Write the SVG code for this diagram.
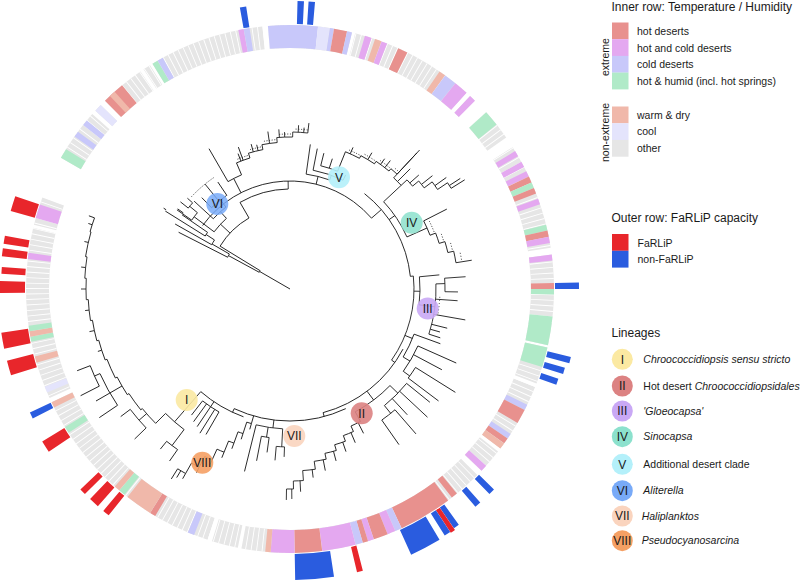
<svg xmlns="http://www.w3.org/2000/svg" width="800" height="580" viewBox="0 0 800 580">
<style>
.br line,.br circle{fill:none;stroke:#1a1a1a;stroke-width:0.85}
.br circle.tk{stroke:#1a1a1a}
.rg{fill:none;stroke-width:23}
.bar{fill:none}
.o{stroke:#e6e6e6}.hd{stroke:#e8918e}.hc{stroke:#e4a8f0}.cd{stroke:#c8c8fa}.hh{stroke:#b0eac8}.wd{stroke:#f0b8aa}.co{stroke:#e4e4fc}
.fr{stroke:#e8262b}.nf{stroke:#2a5cdf}
text{font-family:"Liberation Sans",Arial,sans-serif;fill:#1a1a1a}
.lg{font-size:10.5px}
.ttl{font-size:12px}
.it{font-style:italic}
.num{font-size:12px;text-anchor:middle}
</style>
<defs>
<marker id="ah" viewBox="0 0 6 6" refX="1" refY="3" markerWidth="5" markerHeight="5" orient="auto-start-reverse"><path d="M6,0 L0,3 L6,6" fill="none" stroke="#8c6d5e" stroke-width="1"/></marker>
</defs>
<rect width="800" height="580" fill="#fff"/>
<g id="ring" transform="translate(290 289)">
<circle class="rg o" r="252.5" pathLength="360" stroke-dasharray="11.7 360" transform="rotate(209.8)"/>
<circle class="rg o" r="252.5" pathLength="360" stroke-dasharray="1.7 360" transform="rotate(222.5)"/>
<circle class="rg o" r="252.5" pathLength="360" stroke-dasharray="10 360" transform="rotate(225.5)"/>
<circle class="rg o" r="252.5" pathLength="360" stroke-dasharray="1.7 360" transform="rotate(236.3)"/>
<circle class="rg o" r="252.5" pathLength="360" stroke-dasharray="25.4 360" transform="rotate(238.6)"/>
<circle class="rg o" r="252.5" pathLength="360" stroke-dasharray="18.4 360" transform="rotate(265.2)"/>
<circle class="rg o" r="252.5" pathLength="360" stroke-dasharray="27.7 360" transform="rotate(-75.7)"/>
<circle class="rg o" r="252.5" pathLength="360" stroke-dasharray="1.5 360" transform="rotate(-47)"/>
<circle class="rg o" r="252.5" pathLength="360" stroke-dasharray="7 360" transform="rotate(-42)"/>
<circle class="rg o" r="252.5" pathLength="360" stroke-dasharray="23.5 360" transform="rotate(-32.5)"/>
<circle class="rg o" r="252.5" pathLength="360" stroke-dasharray="19.8 360" transform="rotate(-7.5)"/>
<circle class="rg o" r="252.5" pathLength="360" stroke-dasharray="8.2 360" transform="rotate(12.8)"/>
<circle class="rg o" r="252.5" pathLength="360" stroke-dasharray="15.4 360" transform="rotate(21.8)"/>
<circle class="rg o" r="252.5" pathLength="360" stroke-dasharray="5.5 360" transform="rotate(38)"/>
<circle class="rg o" r="252.5" pathLength="360" stroke-dasharray="55.8 360" transform="rotate(44.8)"/>
<circle class="rg o" r="252.5" pathLength="360" stroke-dasharray="5.8 360" transform="rotate(101.4)"/>
<circle class="rg o" r="252.5" pathLength="360" stroke-dasharray="46.4 360" transform="rotate(108.2)"/>
<circle class="rg o" r="252.5" pathLength="360" stroke-dasharray="37.8 360" transform="rotate(155.6)"/>
<circle class="rg o" r="252.5" pathLength="360" stroke-dasharray="6.2 360" transform="rotate(194.1)"/>
<circle class="rg" stroke="#fff" r="252.5" pathLength="360" stroke-dasharray="0.2 1" stroke-width="23.6"/>
<circle class="rg hh" r="252.5" pathLength="360" stroke-dasharray="2.2 360" transform="rotate(209.8)"/>
<circle class="rg cd" r="252.5" pathLength="360" stroke-dasharray="1.3 360" transform="rotate(215.3)"/>
<circle class="rg cd" r="252.5" pathLength="360" stroke-dasharray="1.3 360" transform="rotate(218.4)"/>
<circle class="rg co" r="252.5" pathLength="360" stroke-dasharray="1.7 360" transform="rotate(222.5)"/>
<circle class="rg hd" r="252.5" pathLength="360" stroke-dasharray="5 360" transform="rotate(225.5)"/>
<circle class="rg wd" r="252.5" pathLength="360" stroke-dasharray="1.4 360" transform="rotate(227)"/>
<circle class="rg hh" r="252.5" pathLength="360" stroke-dasharray="1.3 360" transform="rotate(238.6)"/>
<circle class="rg cd" r="252.5" pathLength="360" stroke-dasharray="1.3 360" transform="rotate(239.9)"/>
<circle class="rg hc" r="252.5" pathLength="360" stroke-dasharray="1.2 360" transform="rotate(258.7)"/>
<circle class="rg cd" r="252.5" pathLength="360" stroke-dasharray="1.3 360" transform="rotate(259.9)"/>
<circle class="rg cd" r="252.5" pathLength="360" stroke-dasharray="10.9 360" transform="rotate(265.2)"/>
<circle class="rg co" r="252.5" pathLength="360" stroke-dasharray="2.6 360" transform="rotate(-83.9)"/>
<circle class="rg cd" r="252.5" pathLength="360" stroke-dasharray="0.9 360" transform="rotate(-81.3)"/>
<circle class="rg hd" r="252.5" pathLength="360" stroke-dasharray="2.9 360" transform="rotate(-80.4)"/>
<circle class="rg cd" r="252.5" pathLength="360" stroke-dasharray="1.1 360" transform="rotate(-77.5)"/>
<circle class="rg hc" r="252.5" pathLength="360" stroke-dasharray="1.5 360" transform="rotate(-73.5)"/>
<circle class="rg wd" r="252.5" pathLength="360" stroke-dasharray="1.5 360" transform="rotate(-71.2)"/>
<circle class="rg hc" r="252.5" pathLength="360" stroke-dasharray="1.3 360" transform="rotate(-69.7)"/>
<circle class="rg hd" r="252.5" pathLength="360" stroke-dasharray="2.2 360" transform="rotate(-65.8)"/>
<circle class="rg wd" r="252.5" pathLength="360" stroke-dasharray="1.5 360" transform="rotate(-55.5)"/>
<circle class="rg cd" r="252.5" pathLength="360" stroke-dasharray="2.8 360" transform="rotate(-54)"/>
<circle class="rg hc" r="252.5" pathLength="360" stroke-dasharray="3.2 360" transform="rotate(-51.2)"/>
<circle class="rg hc" r="252.5" pathLength="360" stroke-dasharray="1.5 360" transform="rotate(-47)"/>
<circle class="rg hh" r="252.5" pathLength="360" stroke-dasharray="3.5 360" transform="rotate(-42)"/>
<circle class="rg hc" r="252.5" pathLength="360" stroke-dasharray="1.3 360" transform="rotate(-31.5)"/>
<circle class="rg hc" r="252.5" pathLength="360" stroke-dasharray="1.3 360" transform="rotate(-28.8)"/>
<circle class="rg hc" r="252.5" pathLength="360" stroke-dasharray="1.3 360" transform="rotate(-26.5)"/>
<circle class="rg hd" r="252.5" pathLength="360" stroke-dasharray="1.4 360" transform="rotate(-25.2)"/>
<circle class="rg hh" r="252.5" pathLength="360" stroke-dasharray="1.3 360" transform="rotate(-23.8)"/>
<circle class="rg hd" r="252.5" pathLength="360" stroke-dasharray="1.3 360" transform="rotate(-22.5)"/>
<circle class="rg hc" r="252.5" pathLength="360" stroke-dasharray="1.3 360" transform="rotate(-20)"/>
<circle class="rg hh" r="252.5" pathLength="360" stroke-dasharray="1.3 360" transform="rotate(-14.1)"/>
<circle class="rg hd" r="252.5" pathLength="360" stroke-dasharray="1.4 360" transform="rotate(-12.8)"/>
<circle class="rg hc" r="252.5" pathLength="360" stroke-dasharray="1.4 360" transform="rotate(-11.4)"/>
<circle class="rg hc" r="252.5" pathLength="360" stroke-dasharray="1.3 360" transform="rotate(-7.5)"/>
<circle class="rg hd" r="252.5" pathLength="360" stroke-dasharray="1.3 360" transform="rotate(-1.3)"/>
<circle class="rg hh" r="252.5" pathLength="360" stroke-dasharray="1.2 360" transform="rotate(0)"/>
<circle class="rg hh" r="252.5" pathLength="360" stroke-dasharray="6.3 360" transform="rotate(6)"/>
<circle class="rg hh" r="252.5" pathLength="360" stroke-dasharray="4.4 360" transform="rotate(12.8)"/>
<circle class="rg cd" r="252.5" pathLength="360" stroke-dasharray="1.3 360" transform="rotate(26)"/>
<circle class="rg hd" r="252.5" pathLength="360" stroke-dasharray="3.2 360" transform="rotate(27.3)"/>
<circle class="rg cd" r="252.5" pathLength="360" stroke-dasharray="1.2 360" transform="rotate(33.3)"/>
<circle class="rg hd" r="252.5" pathLength="360" stroke-dasharray="1.3 360" transform="rotate(34.5)"/>
<circle class="rg wd" r="252.5" pathLength="360" stroke-dasharray="1.4 360" transform="rotate(35.8)"/>
<circle class="rg hc" r="252.5" pathLength="360" stroke-dasharray="1.5 360" transform="rotate(42)"/>
<circle class="rg hd" r="252.5" pathLength="360" stroke-dasharray="1.4 360" transform="rotate(50.8)"/>
<circle class="rg hd" r="252.5" pathLength="360" stroke-dasharray="11.8 360" transform="rotate(53.2)"/>
<circle class="rg cd" r="252.5" pathLength="360" stroke-dasharray="1.5 360" transform="rotate(65)"/>
<circle class="rg hc" r="252.5" pathLength="360" stroke-dasharray="1.8 360" transform="rotate(66.5)"/>
<circle class="rg hd" r="252.5" pathLength="360" stroke-dasharray="3.2 360" transform="rotate(68.3)"/>
<circle class="rg hc" r="252.5" pathLength="360" stroke-dasharray="1.3 360" transform="rotate(71.5)"/>
<circle class="rg hd" r="252.5" pathLength="360" stroke-dasharray="1.2 360" transform="rotate(72.8)"/>
<circle class="rg cd" r="252.5" pathLength="360" stroke-dasharray="1.6 360" transform="rotate(74)"/>
<circle class="rg hc" r="252.5" pathLength="360" stroke-dasharray="7.4 360" transform="rotate(75.6)"/>
<circle class="rg hd" r="252.5" pathLength="360" stroke-dasharray="6 360" transform="rotate(83)"/>
<circle class="rg hc" r="252.5" pathLength="360" stroke-dasharray="5.2 360" transform="rotate(89)"/>
<circle class="rg wd" r="252.5" pathLength="360" stroke-dasharray="1.2 360" transform="rotate(94.2)"/>
<circle class="rg cd" r="252.5" pathLength="360" stroke-dasharray="1.5 360" transform="rotate(111.3)"/>
<circle class="rg hd" r="252.5" pathLength="360" stroke-dasharray="1.3 360" transform="rotate(120.7)"/>
<circle class="rg wd" r="252.5" pathLength="360" stroke-dasharray="6 360" transform="rotate(122)"/>
<circle class="rg hh" r="252.5" pathLength="360" stroke-dasharray="1.5 360" transform="rotate(128.8)"/>
<circle class="rg wd" r="252.5" pathLength="360" stroke-dasharray="1.3 360" transform="rotate(130.3)"/>
<circle class="rg hh" r="252.5" pathLength="360" stroke-dasharray="1.5 360" transform="rotate(147)"/>
<circle class="rg wd" r="252.5" pathLength="360" stroke-dasharray="1.3 360" transform="rotate(153.3)"/>
<circle class="rg co" r="252.5" pathLength="360" stroke-dasharray="1.4 360" transform="rotate(156.9)"/>
<circle class="rg wd" r="252.5" pathLength="360" stroke-dasharray="1.4 360" transform="rotate(163.8)"/>
<circle class="rg hh" r="252.5" pathLength="360" stroke-dasharray="1.1 360" transform="rotate(168.5)"/>
<circle class="rg wd" r="252.5" pathLength="360" stroke-dasharray="1.2 360" transform="rotate(169.6)"/>
<circle class="rg hh" r="252.5" pathLength="360" stroke-dasharray="1.2 360" transform="rotate(170.8)"/>
<circle class="rg hc" r="252.5" pathLength="360" stroke-dasharray="1.4 360" transform="rotate(186.5)"/>
<circle class="rg hc" r="252.5" pathLength="360" stroke-dasharray="3.1 360" transform="rotate(195.6)"/>
</g>
<g id="bars" transform="translate(290 289)">
<circle class="bar nf" r="275.5" stroke-width="21" pathLength="360" stroke-dasharray="1.3 360" transform="rotate(259.9)"/>
<circle class="bar nf" r="276.5" stroke-width="23" pathLength="360" stroke-dasharray="1.3 360" transform="rotate(-88.5)"/>
<circle class="bar nf" r="276.5" stroke-width="23" pathLength="360" stroke-dasharray="1.3 360" transform="rotate(-86.3)"/>
<circle class="bar nf" r="277" stroke-width="24" pathLength="360" stroke-dasharray="1.3 360" transform="rotate(-1.3)"/>
<circle class="bar nf" r="277" stroke-width="24" pathLength="360" stroke-dasharray="1.3 360" transform="rotate(13.6)"/>
<circle class="bar nf" r="275.5" stroke-width="21" pathLength="360" stroke-dasharray="1.3 360" transform="rotate(16)"/>
<circle class="bar nf" r="274" stroke-width="18" pathLength="360" stroke-dasharray="1.3 360" transform="rotate(18.5)"/>
<circle class="bar nf" r="275.5" stroke-width="21" pathLength="360" stroke-dasharray="1.3 360" transform="rotate(44.5)"/>
<circle class="bar nf" r="275.5" stroke-width="21" pathLength="360" stroke-dasharray="1.3 360" transform="rotate(48.3)"/>
<circle class="bar nf" r="277.5" stroke-width="25" pathLength="360" stroke-dasharray="1.2 360" transform="rotate(54.4)"/>
<circle class="bar fr" r="278.5" stroke-width="27" pathLength="360" stroke-dasharray="1 360" transform="rotate(55.6)"/>
<circle class="bar nf" r="278" stroke-width="26" pathLength="360" stroke-dasharray="1.3 360" transform="rotate(56.6)"/>
<circle class="bar nf" r="278.5" stroke-width="27" pathLength="360" stroke-dasharray="6.3 360" transform="rotate(59.2)"/>
<circle class="bar fr" r="278" stroke-width="26" pathLength="360" stroke-dasharray="1.2 360" transform="rotate(75.5)"/>
<circle class="bar nf" r="278" stroke-width="26" pathLength="360" stroke-dasharray="7.7 360" transform="rotate(81.3)"/>
<circle class="bar fr" r="277.5" stroke-width="25" pathLength="360" stroke-dasharray="1.4 360" transform="rotate(128.7)"/>
<circle class="bar fr" r="277.5" stroke-width="25" pathLength="360" stroke-dasharray="2.1 360" transform="rotate(131.5)"/>
<circle class="bar fr" r="277.5" stroke-width="25" pathLength="360" stroke-dasharray="1.3 360" transform="rotate(135)"/>
<circle class="bar fr" r="278" stroke-width="26" pathLength="360" stroke-dasharray="2.4 360" transform="rotate(146)"/>
<circle class="bar nf" r="276.5" stroke-width="23" pathLength="360" stroke-dasharray="1.3 360" transform="rotate(153.3)"/>
<circle class="bar fr" r="278.5" stroke-width="27" pathLength="360" stroke-dasharray="3 360" transform="rotate(162.8)"/>
<circle class="bar fr" r="278.5" stroke-width="27" pathLength="360" stroke-dasharray="3.2 360" transform="rotate(168.2)"/>
<circle class="bar fr" r="278" stroke-width="26" pathLength="360" stroke-dasharray="2.4 360" transform="rotate(179.2)"/>
<circle class="bar fr" r="277" stroke-width="24" pathLength="360" stroke-dasharray="1.4 360" transform="rotate(183)"/>
<circle class="bar fr" r="277.5" stroke-width="25" pathLength="360" stroke-dasharray="1.6 360" transform="rotate(186.5)"/>
<circle class="bar fr" r="277.5" stroke-width="25" pathLength="360" stroke-dasharray="1.6 360" transform="rotate(189)"/>
<circle class="bar fr" r="277.5" stroke-width="25" pathLength="360" stroke-dasharray="3.1 360" transform="rotate(195.6)"/>
</g>
<g id="connectors" class="br" transform="translate(290 289)">
<line x1="0" x2="35" transform="rotate(210)"/>
<line x1="35" x2="70" transform="rotate(208.5)"/>
<line x1="35" x2="82" transform="rotate(211.5)"/>
<line x1="70" x2="125" transform="rotate(207)"/>
<line x1="70" x2="90" transform="rotate(210)"/>
<line x1="90" x2="132" transform="rotate(209.5)"/>
<line x1="90" x2="100" transform="rotate(213)"/>
<line x1="100" x2="147" transform="rotate(212)"/>
<line x1="100" x2="131" transform="rotate(214.5)"/>
<line x1="131" x2="138" transform="rotate(215.5)"/>
<line x1="147" x2="150" transform="rotate(212.6)"/>
<circle r="35" pathLength="360" stroke-dasharray="3 360" transform="rotate(208.5)"/>
<circle r="70" pathLength="360" stroke-dasharray="3 360" transform="rotate(207)"/>
<circle r="90" pathLength="360" stroke-dasharray="3.5 360" transform="rotate(209.5)"/>
<circle r="100" pathLength="360" stroke-dasharray="2.5 360" transform="rotate(212)"/>
<circle r="82" pathLength="360" stroke-dasharray="28.5 360" transform="rotate(211.5)"/>
<line x1="82" x2="95" transform="rotate(223)"/>
<circle r="95" pathLength="360" stroke-dasharray="11 360" transform="rotate(217)"/>
<line x1="95" x2="120" transform="rotate(217)"/>
<circle r="120" pathLength="360" stroke-dasharray="4.5 360" transform="rotate(215)"/>
<line x1="120" x2="138" transform="rotate(215)"/>
<line x1="120" x2="130" transform="rotate(219.5)"/>
<circle r="130" pathLength="360" stroke-dasharray="3 360" transform="rotate(218.5)"/>
<line x1="130" x2="140" transform="rotate(218.5)"/>
<line x1="130" x2="137" transform="rotate(221.5)"/>
<line x1="95" x2="104" transform="rotate(228)"/>
<circle r="104" pathLength="360" stroke-dasharray="9.5 360" transform="rotate(222.5)"/>
<line x1="104" x2="130" transform="rotate(222.5)"/>
<line x1="104" x2="113" transform="rotate(232)"/>
<circle r="113" pathLength="360" stroke-dasharray="10 360" transform="rotate(226)"/>
<line x1="113" x2="127" transform="rotate(226)"/>
<line x1="113" x2="135" transform="rotate(231)"/>
<line x1="113" x2="129" transform="rotate(236)"/>
<circle class="tk" r="135" stroke-width="8" pathLength="360" stroke-dasharray="0.42 0.68 0.42 0.68 0.42 0.68 0.42 0.68 0.42 0.68 0.42 0.68 0.42 0.68 0.42 0.68 0.42 0.68 0.42 0.68 0.42 0.68 0.42 360" transform="rotate(223)"/>
<line x1="82" x2="100" transform="rotate(240)"/>
<circle r="100" pathLength="360" stroke-dasharray="29 360" transform="rotate(240)"/>
<line x1="100" x2="108" transform="rotate(269)"/>
<circle r="108" pathLength="360" stroke-dasharray="103 360" transform="rotate(216)"/>
<line x1="108" x2="124" transform="rotate(243)"/>
<circle r="124" pathLength="360" stroke-dasharray="7 360" transform="rotate(240)"/>
<line x1="124" x2="162" transform="rotate(240)"/>
<line x1="124" x2="137" transform="rotate(247)"/>
<circle r="137" pathLength="360" stroke-dasharray="6 360" transform="rotate(247)"/>
<line x1="137" x2="142" transform="rotate(253)"/>
<circle r="142" pathLength="360" stroke-dasharray="6 360" transform="rotate(253)"/>
<line x1="142" x2="147" transform="rotate(259)"/>
<circle r="147" pathLength="360" stroke-dasharray="6 360" transform="rotate(259)"/>
<line x1="147" x2="152" transform="rotate(265)"/>
<circle r="152" pathLength="360" stroke-dasharray="6 360" transform="rotate(265)"/>
<line x1="152" x2="157" transform="rotate(-89)"/>
<circle r="157" pathLength="360" stroke-dasharray="5.5 360" transform="rotate(-89)"/>
<line x1="157" x2="167" transform="rotate(-83.5)"/>
<line x1="137" x2="151" transform="rotate(250)"/>
<line x1="147" x2="159" transform="rotate(262)"/>
<line x1="137" x2="145" transform="rotate(249)"/>
<line x1="142" x2="150" transform="rotate(255)"/>
<line x1="142" x2="148" transform="rotate(257)"/>
<line x1="152" x2="160" transform="rotate(266)"/>
<line x1="152" x2="157" transform="rotate(268)"/>
<line x1="157" x2="164" transform="rotate(-87)"/>
<line x1="157" x2="162" transform="rotate(-85)"/>
<circle class="tk" r="140" stroke-width="6" pathLength="360" stroke-dasharray="0.4 0.6 0.4 0.6 0.4 0.6 0.4 0.6 0.4 360" transform="rotate(248)"/>
<circle class="tk" r="145" stroke-width="6" pathLength="360" stroke-dasharray="0.39 0.61 0.39 0.61 0.39 0.61 0.39 0.61 0.39 360" transform="rotate(254)"/>
<circle class="tk" r="150" stroke-width="6" pathLength="360" stroke-dasharray="0.38 0.62 0.38 0.62 0.38 0.62 0.38 0.62 0.38 360" transform="rotate(260)"/>
<circle class="tk" r="155" stroke-width="6" pathLength="360" stroke-dasharray="0.37 0.63 0.37 0.63 0.37 0.63 0.37 0.63 0.37 360" transform="rotate(266)"/>
<circle class="tk" r="160" stroke-width="6" pathLength="360" stroke-dasharray="0.36 0.64 0.36 0.64 0.36 0.64 0.36 0.64 0.36 360" transform="rotate(-88)"/>
<line x1="108" x2="116" transform="rotate(-76)"/>
<circle r="116" pathLength="360" stroke-dasharray="12 360" transform="rotate(-82)"/>
<line x1="116" x2="146" transform="rotate(-82)"/>
<line x1="116" x2="121" transform="rotate(-70)"/>
<circle r="121" pathLength="360" stroke-dasharray="15 360" transform="rotate(-79)"/>
<line x1="121" x2="143" transform="rotate(-79)"/>
<line x1="121" x2="127" transform="rotate(-64)"/>
<circle r="127" pathLength="360" stroke-dasharray="8 360" transform="rotate(-76)"/>
<line x1="127" x2="140" transform="rotate(-76)"/>
<line x1="127" x2="137" transform="rotate(-72)"/>
<line x1="127" x2="148" transform="rotate(-68)"/>
<circle r="148" pathLength="360" stroke-dasharray="6 360" transform="rotate(-68)"/>
<line x1="148" x2="151" transform="rotate(-62)"/>
<circle r="151" pathLength="360" stroke-dasharray="6 360" transform="rotate(-62)"/>
<line x1="151" x2="154" transform="rotate(-56)"/>
<circle r="154" pathLength="360" stroke-dasharray="6 360" transform="rotate(-56)"/>
<line x1="154" x2="157" transform="rotate(-50)"/>
<circle r="157" pathLength="360" stroke-dasharray="3 360" transform="rotate(-50)"/>
<line x1="157" x2="186" transform="rotate(-47)"/>
<line x1="148" x2="155" transform="rotate(-66)"/>
<line x1="151" x2="159" transform="rotate(-59)"/>
<line x1="154" x2="161" transform="rotate(-54)"/>
<line x1="154" x2="163" transform="rotate(-52)"/>
<circle class="tk" r="151" stroke-width="6" pathLength="360" stroke-dasharray="0.38 0.62 0.38 0.62 0.38 0.62 0.38 0.62 0.38 360" transform="rotate(-67)"/>
<circle class="tk" r="154" stroke-width="6" pathLength="360" stroke-dasharray="0.37 0.63 0.37 0.63 0.37 0.63 0.37 0.63 0.37 360" transform="rotate(-61)"/>
<circle class="tk" r="157" stroke-width="6" pathLength="360" stroke-dasharray="0.37 0.63 0.37 0.63 0.37 0.63 0.37 0.63 0.37 360" transform="rotate(-55)"/>
<circle class="tk" r="160" stroke-width="6" pathLength="360" stroke-dasharray="0.36 0.64 0.36 360" transform="rotate(-49)"/>
<line x1="108" x2="121" transform="rotate(-41)"/>
<circle r="121" pathLength="360" stroke-dasharray="46 360" transform="rotate(-52)"/>
<line x1="121" x2="128" transform="rotate(-35)"/>
<circle r="128" pathLength="360" stroke-dasharray="19 360" transform="rotate(-43)"/>
<line x1="128" x2="152" transform="rotate(-43)"/>
<circle r="152" pathLength="360" stroke-dasharray="4 360" transform="rotate(-47)"/>
<line x1="152" x2="190" transform="rotate(-47)"/>
<line x1="152" x2="170" transform="rotate(-45)"/>
<line x1="152" x2="160" transform="rotate(-43)"/>
<circle r="160" pathLength="360" stroke-dasharray="3 360" transform="rotate(-43)"/>
<line x1="160" x2="168" transform="rotate(-40)"/>
<circle r="168" pathLength="360" stroke-dasharray="3 360" transform="rotate(-40)"/>
<line x1="168" x2="178" transform="rotate(-37)"/>
<circle r="178" pathLength="360" stroke-dasharray="3 360" transform="rotate(-37)"/>
<line x1="178" x2="190" transform="rotate(-34)"/>
<circle r="190" pathLength="360" stroke-dasharray="2 360" transform="rotate(-34)"/>
<line x1="190" x2="206" transform="rotate(-32)"/>
<line x1="160" x2="172" transform="rotate(-41.5)"/>
<line x1="168" x2="182" transform="rotate(-38.5)"/>
<line x1="178" x2="192" transform="rotate(-35.5)"/>
<line x1="190" x2="203" transform="rotate(-33)"/>
<line x1="128" x2="150" transform="rotate(-24)"/>
<circle r="150" pathLength="360" stroke-dasharray="6 360" transform="rotate(-27)"/>
<line x1="150" x2="176" transform="rotate(-27)"/>
<line x1="150" x2="156" transform="rotate(-21)"/>
<circle r="156" pathLength="360" stroke-dasharray="4 360" transform="rotate(-21)"/>
<line x1="156" x2="162" transform="rotate(-17)"/>
<circle r="162" pathLength="360" stroke-dasharray="4 360" transform="rotate(-17)"/>
<line x1="162" x2="168" transform="rotate(-13)"/>
<circle r="168" pathLength="360" stroke-dasharray="4 360" transform="rotate(-13)"/>
<line x1="168" x2="184" transform="rotate(-9)"/>
<circle class="tk" r="155" stroke-width="10" pathLength="360" stroke-dasharray="0.37 0.63 0.37 0.63 0.37 0.63 0.37 0.63 0.37 360" transform="rotate(-26)"/>
<circle class="tk" r="161" stroke-width="10" pathLength="360" stroke-dasharray="0.36 0.64 0.36 0.64 0.36 360" transform="rotate(-20)"/>
<circle class="tk" r="167" stroke-width="10" pathLength="360" stroke-dasharray="0.35 0.65 0.35 0.65 0.35 360" transform="rotate(-16)"/>
<circle class="tk" r="174" stroke-width="12" pathLength="360" stroke-dasharray="0.34 0.66 0.34 0.66 0.34 360" transform="rotate(-12)"/>
<line x1="121" x2="124" transform="rotate(-6)"/>
<circle r="124" pathLength="360" stroke-dasharray="41 360" transform="rotate(-6)"/>
<line x1="124" x2="130" transform="rotate(1)"/>
<circle r="130" pathLength="360" stroke-dasharray="12.4 360" transform="rotate(-5.4)"/>
<line x1="130" x2="150" transform="rotate(-5.4)"/>
<line x1="130" x2="146" transform="rotate(7)"/>
<circle r="146" pathLength="360" stroke-dasharray="20 360" transform="rotate(-2)"/>
<line x1="146" x2="155" transform="rotate(-2)"/>
<circle r="155" pathLength="360" stroke-dasharray="5 360" transform="rotate(-4)"/>
<line x1="155" x2="176" transform="rotate(-4)"/>
<line x1="155" x2="168" transform="rotate(1)"/>
<line x1="146" x2="178" transform="rotate(10)"/>
<line x1="146" x2="162" transform="rotate(14)"/>
<line x1="146" x2="158" transform="rotate(18)"/>
<line x1="146" x2="168" transform="rotate(4)"/>
<line x1="146" x2="156" transform="rotate(16)"/>
<circle class="tk" r="150" stroke-width="8" pathLength="360" stroke-dasharray="0.38 0.82 0.38 0.82 0.38 0.82 0.38 0.82 0.38 0.82 0.38 360" transform="rotate(3)"/>
<line x1="124" x2="132" transform="rotate(22)"/>
<circle r="132" pathLength="360" stroke-dasharray="11 360" transform="rotate(20)"/>
<line x1="132" x2="160" transform="rotate(20)"/>
<line x1="132" x2="140" transform="rotate(31)"/>
<circle r="140" pathLength="360" stroke-dasharray="12 360" transform="rotate(24)"/>
<line x1="140" x2="182" transform="rotate(24)"/>
<line x1="140" x2="172" transform="rotate(28)"/>
<line x1="140" x2="148" transform="rotate(36)"/>
<circle r="148" pathLength="360" stroke-dasharray="5 360" transform="rotate(32)"/>
<line x1="148" x2="195" transform="rotate(32)"/>
<line x1="148" x2="186" transform="rotate(37)"/>
<line x1="124" x2="128" transform="rotate(35)"/>
<circle r="128" pathLength="360" stroke-dasharray="47 360" transform="rotate(28)"/>
<line x1="128" x2="139" transform="rotate(53)"/>
<circle r="139" pathLength="360" stroke-dasharray="18 360" transform="rotate(44)"/>
<line x1="139" x2="150" transform="rotate(44)"/>
<circle r="150" pathLength="360" stroke-dasharray="12 360" transform="rotate(39)"/>
<line x1="150" x2="180" transform="rotate(39)"/>
<line x1="150" x2="188" transform="rotate(43)"/>
<line x1="150" x2="172" transform="rotate(47)"/>
<line x1="150" x2="160" transform="rotate(51)"/>
<circle r="160" pathLength="360" stroke-dasharray="6 360" transform="rotate(49)"/>
<line x1="160" x2="192" transform="rotate(49)"/>
<line x1="160" x2="190" transform="rotate(55)"/>
<line x1="139" x2="150" transform="rotate(62)"/>
<circle r="150" pathLength="360" stroke-dasharray="4 360" transform="rotate(62)"/>
<line x1="150" x2="156" transform="rotate(66)"/>
<circle r="156" pathLength="360" stroke-dasharray="4 360" transform="rotate(66)"/>
<line x1="156" x2="162" transform="rotate(70)"/>
<circle r="162" pathLength="360" stroke-dasharray="4 360" transform="rotate(70)"/>
<line x1="162" x2="168" transform="rotate(74)"/>
<circle r="168" pathLength="360" stroke-dasharray="4 360" transform="rotate(74)"/>
<line x1="168" x2="174" transform="rotate(78)"/>
<circle r="174" pathLength="360" stroke-dasharray="4 360" transform="rotate(78)"/>
<line x1="174" x2="182" transform="rotate(82)"/>
<circle r="182" pathLength="360" stroke-dasharray="4 360" transform="rotate(82)"/>
<line x1="182" x2="192" transform="rotate(86)"/>
<circle r="192" pathLength="360" stroke-dasharray="3 360" transform="rotate(86)"/>
<line x1="192" x2="200" transform="rotate(89)"/>
<circle r="200" pathLength="360" stroke-dasharray="2 360" transform="rotate(89)"/>
<line x1="200" x2="211" transform="rotate(91)"/>
<line x1="150" x2="162" transform="rotate(63)"/>
<line x1="156" x2="167" transform="rotate(67)"/>
<line x1="162" x2="172" transform="rotate(71)"/>
<line x1="168" x2="178" transform="rotate(75)"/>
<line x1="174" x2="185" transform="rotate(79)"/>
<line x1="182" x2="190" transform="rotate(83)"/>
<line x1="192" x2="203" transform="rotate(87)"/>
<line x1="200" x2="210" transform="rotate(89.5)"/>
<line x1="128" x2="132" transform="rotate(75)"/>
<circle r="132" pathLength="360" stroke-dasharray="50 360" transform="rotate(65)"/>
<line x1="132" x2="140" transform="rotate(97)"/>
<circle r="140" pathLength="360" stroke-dasharray="11 360" transform="rotate(93)"/>
<line x1="140" x2="158" transform="rotate(93)"/>
<circle r="158" pathLength="360" stroke-dasharray="3 360" transform="rotate(92)"/>
<line x1="158" x2="168" transform="rotate(92)"/>
<line x1="158" x2="172" transform="rotate(95)"/>
<line x1="140" x2="188" transform="rotate(104)"/>
<line x1="140" x2="150" transform="rotate(99)"/>
<circle r="150" pathLength="360" stroke-dasharray="3 360" transform="rotate(98)"/>
<line x1="150" x2="165" transform="rotate(98)"/>
<line x1="150" x2="175" transform="rotate(101)"/>
<line x1="132" x2="140" transform="rotate(106)"/>
<circle r="140" pathLength="360" stroke-dasharray="2 360" transform="rotate(106)"/>
<line x1="140" x2="152" transform="rotate(108)"/>
<circle r="152" pathLength="360" stroke-dasharray="2 360" transform="rotate(108)"/>
<line x1="152" x2="164" transform="rotate(110)"/>
<circle r="164" pathLength="360" stroke-dasharray="2 360" transform="rotate(110)"/>
<line x1="164" x2="176" transform="rotate(112)"/>
<circle r="176" pathLength="360" stroke-dasharray="2.5 360" transform="rotate(112)"/>
<line x1="176" x2="188" transform="rotate(114.5)"/>
<circle r="188" pathLength="360" stroke-dasharray="2.5 360" transform="rotate(114.5)"/>
<line x1="188" x2="200" transform="rotate(117)"/>
<circle r="200" pathLength="360" stroke-dasharray="2.5 360" transform="rotate(117)"/>
<line x1="200" x2="212" transform="rotate(119.5)"/>
<circle r="212" pathLength="360" stroke-dasharray="2.5 360" transform="rotate(119.5)"/>
<line x1="212" x2="224" transform="rotate(122)"/>
<line x1="140" x2="146" transform="rotate(106)"/>
<line x1="152" x2="158" transform="rotate(108)"/>
<line x1="164" x2="170" transform="rotate(110)"/>
<line x1="176" x2="182" transform="rotate(112)"/>
<line x1="188" x2="194" transform="rotate(114.5)"/>
<line x1="200" x2="206" transform="rotate(117)"/>
<line x1="212" x2="218" transform="rotate(119.5)"/>
<line x1="212" x2="220" transform="rotate(121)"/>
<line x1="132" x2="136" transform="rotate(115)"/>
<circle r="136" pathLength="360" stroke-dasharray="21 360" transform="rotate(110)"/>
<line x1="136" x2="142" transform="rotate(124)"/>
<circle r="142" pathLength="360" stroke-dasharray="8 360" transform="rotate(120)"/>
<line x1="142" x2="168" transform="rotate(120)"/>
<line x1="142" x2="170" transform="rotate(122)"/>
<line x1="142" x2="166" transform="rotate(124)"/>
<line x1="142" x2="164" transform="rotate(126)"/>
<line x1="142" x2="160" transform="rotate(128)"/>
<line x1="136" x2="176" transform="rotate(131)"/>
<circle r="176" pathLength="360" stroke-dasharray="8 360" transform="rotate(127)"/>
<line x1="176" x2="196" transform="rotate(127)"/>
<circle r="196" pathLength="360" stroke-dasharray="4 360" transform="rotate(125)"/>
<line x1="196" x2="210" transform="rotate(125)"/>
<line x1="196" x2="206" transform="rotate(129)"/>
<line x1="176" x2="190" transform="rotate(135)"/>
<circle r="190" pathLength="360" stroke-dasharray="6 360" transform="rotate(135)"/>
<line x1="190" x2="192" transform="rotate(141)"/>
<circle r="192" pathLength="360" stroke-dasharray="6 360" transform="rotate(141)"/>
<line x1="192" x2="194" transform="rotate(147)"/>
<circle r="194" pathLength="360" stroke-dasharray="6 360" transform="rotate(147)"/>
<line x1="194" x2="196" transform="rotate(153)"/>
<circle r="196" pathLength="360" stroke-dasharray="6 360" transform="rotate(153)"/>
<line x1="196" x2="198" transform="rotate(159)"/>
<circle r="198" pathLength="360" stroke-dasharray="6 360" transform="rotate(159)"/>
<line x1="198" x2="200" transform="rotate(165)"/>
<circle r="200" pathLength="360" stroke-dasharray="6 360" transform="rotate(165)"/>
<line x1="200" x2="202" transform="rotate(171)"/>
<circle r="202" pathLength="360" stroke-dasharray="6 360" transform="rotate(171)"/>
<line x1="202" x2="204" transform="rotate(177)"/>
<circle r="204" pathLength="360" stroke-dasharray="6 360" transform="rotate(177)"/>
<line x1="204" x2="205.5" transform="rotate(183)"/>
<circle r="205.5" pathLength="360" stroke-dasharray="6 360" transform="rotate(183)"/>
<line x1="205.5" x2="207" transform="rotate(189)"/>
<circle r="207" pathLength="360" stroke-dasharray="7 360" transform="rotate(189)"/>
<line x1="207" x2="208" transform="rotate(196)"/>
<circle r="208" pathLength="360" stroke-dasharray="4 360" transform="rotate(196)"/>
<line x1="208" x2="214" transform="rotate(200)"/>
<line x1="198" x2="202" transform="rotate(162)"/>
<line x1="200" x2="205" transform="rotate(168)"/>
<line x1="202" x2="206" transform="rotate(174)"/>
<line x1="204" x2="209" transform="rotate(180)"/>
<line x1="205.5" x2="210" transform="rotate(186)"/>
<line x1="207" x2="211" transform="rotate(193)"/>
<line x1="208" x2="212" transform="rotate(198)"/>
<line x1="194" x2="208" transform="rotate(150)"/>
<circle r="208" pathLength="360" stroke-dasharray="10 360" transform="rotate(146)"/>
<line x1="208" x2="230" transform="rotate(146)"/>
<line x1="208" x2="224" transform="rotate(150)"/>
<line x1="208" x2="214" transform="rotate(156)"/>
<circle r="214" pathLength="360" stroke-dasharray="6 360" transform="rotate(153)"/>
<line x1="214" x2="235" transform="rotate(153)"/>
<line x1="214" x2="228" transform="rotate(159)"/>
<line x1="190" x2="200" transform="rotate(139)"/>
<circle r="200" pathLength="360" stroke-dasharray="7 360" transform="rotate(136)"/>
<line x1="200" x2="216" transform="rotate(136)"/>
<line x1="200" x2="212" transform="rotate(143)"/>
<path d="M282.5,437.6 L273,438.3" fill="none" stroke="#8c6d5e" stroke-width="1" marker-end="url(#ah)"/>
</g>
<g id="lin-I"><circle cx="186.7" cy="400" r="11" fill="#fbe9a2" fill-opacity="0.9"/><text class="num" x="186.7" y="404.3" fill="#9a8540">I</text></g>
<g id="lin-II"><circle cx="361.7" cy="413.3" r="11" fill="#dc8282" fill-opacity="0.9"/><text class="num" x="361.7" y="417.6" fill="#8b1a1a">II</text></g>
<g id="lin-III"><circle cx="427.7" cy="308.5" r="11" fill="#c9a8f5" fill-opacity="0.9"/><text class="num" x="427.7" y="312.8" fill="#5a2a9a">III</text></g>
<g id="lin-IV"><circle cx="411.7" cy="222.7" r="11" fill="#8ce1cd" fill-opacity="0.85"/><text class="num" x="411.7" y="227" fill="#2a7a6a">IV</text></g>
<g id="lin-V"><circle cx="339" cy="177.3" r="11" fill="#b4f0fa" fill-opacity="0.9"/><text class="num" x="339" y="181.6" fill="#2a9ab4">V</text></g>
<g id="lin-VI"><circle cx="217.3" cy="204" r="11" fill="#78aaf8" fill-opacity="0.85"/><text class="num" x="217.3" y="208.3" fill="#2050c0">VI</text></g>
<g id="lin-VII"><circle cx="294.3" cy="436" r="11" fill="#fad4be" fill-opacity="0.9"/><text class="num" x="294.3" y="440.3" fill="#9a6e5e">VII</text></g>
<g id="lin-VIII"><circle cx="202.3" cy="462.7" r="11" fill="#f5a064" fill-opacity="0.9"/><text class="num" x="202.3" y="467" fill="#7a4020">VIII</text></g>
<g id="legend-inner">
<text class="ttl" x="611.5" y="10.5">Inner row: Temperature / Humidity</text>
<rect x="612" y="22.5" width="16.5" height="16.8" fill="#e8918e"/>
<rect x="612" y="39.2" width="16.5" height="16.8" fill="#e4a8f0"/>
<rect x="612" y="55.9" width="16.5" height="16.8" fill="#c8c8fa"/>
<rect x="612" y="72.6" width="16.5" height="16.8" fill="#b0eac8"/>
<rect x="612" y="106.5" width="16.5" height="16.8" fill="#f0b8aa"/>
<rect x="612" y="123.2" width="16.5" height="16.8" fill="#e4e4fc"/>
<rect x="612" y="139.9" width="16.5" height="16.8" fill="#e6e6e6"/>
<text class="lg" x="637" y="34.8">hot deserts</text>
<text class="lg" x="637" y="51.5">hot and cold deserts</text>
<text class="lg" x="637" y="68.2">cold deserts</text>
<text class="lg" x="637" y="84.9">hot &amp; humid (incl. hot springs)</text>
<text class="lg" x="637" y="118.6">warm &amp; dry</text>
<text class="lg" x="637" y="135.4">cool</text>
<text class="lg" x="637" y="152.2">other</text>
<text class="lg" text-anchor="middle" transform="translate(608.5 57) rotate(-90)">extreme</text>
<text class="lg" text-anchor="middle" transform="translate(608.5 132.5) rotate(-90)">non-extreme</text>
</g>
<g id="legend-outer">
<text class="ttl" x="611.5" y="221.5">Outer row: FaRLiP capacity</text>
<rect x="612" y="234" width="16.5" height="16.8" fill="#e8262b"/>
<rect x="612" y="250.8" width="16.5" height="16.8" fill="#2a5cdf"/>
<text class="lg" x="637.5" y="246.5">FaRLiP</text>
<text class="lg" x="637.5" y="263.2">non-FaRLiP</text>
</g>
<g id="legend-lineages">
<text class="ttl" x="611.5" y="337">Lineages</text>
<circle cx="622.3" cy="359.3" r="10.5" fill="#fbe9a2"/><text class="num" x="622.3" y="363.6" fill="#9a8540">I</text>
<circle cx="622.3" cy="386" r="10.5" fill="#dc8282"/><text class="num" x="622.3" y="390.3" fill="#8b1a1a">II</text>
<circle cx="622.3" cy="411" r="10.5" fill="#c9a8f5"/><text class="num" x="622.3" y="415.3" fill="#5a2a9a">III</text>
<circle cx="622.3" cy="436.7" r="10.5" fill="#8ce1cd"/><text class="num" x="622.3" y="441" fill="#2a7a6a">IV</text>
<circle cx="622.3" cy="464.3" r="10.5" fill="#b4f0fa"/><text class="num" x="622.3" y="468.6" fill="#2a9ab4">V</text>
<circle cx="622.3" cy="490.7" r="10.5" fill="#78aaf8"/><text class="num" x="622.3" y="495" fill="#2050c0">VI</text>
<circle cx="622.3" cy="516" r="10.5" fill="#fad4be"/><text class="num" x="622.3" y="520.3" fill="#9a6e5e">VII</text>
<circle cx="622.3" cy="540.7" r="10.5" fill="#f5a064"/><text class="num" x="622.3" y="545" fill="#7a4020">VIII</text>
<text class="lg it" x="643.3" y="363">Chroococcidiopsis sensu stricto</text>
<text class="lg" x="643.3" y="389.7">Hot desert <tspan class="it">Chroococcidiopsidales</tspan></text>
<text class="lg it" x="643.3" y="414.7">'Gloeocapsa'</text>
<text class="lg it" x="643.3" y="440.4">Sinocapsa</text>
<text class="lg" x="643.3" y="468">Additional desert clade</text>
<text class="lg it" x="643.3" y="494.4">Aliterella</text>
<text class="lg it" x="641.7" y="519.7">Haliplanktos</text>
<text class="lg it" x="641.7" y="544.4">Pseudocyanosarcina</text>
</g>
</svg>
